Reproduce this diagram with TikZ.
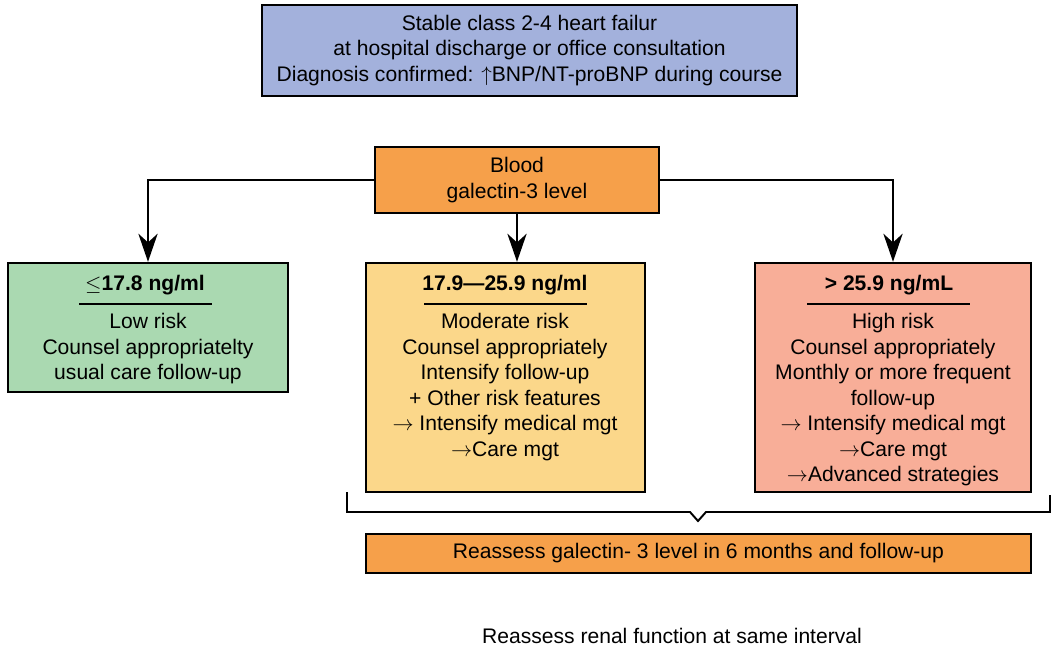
\documentclass[tikz,border=0pt]{standalone}
\usepackage{fontspec}
\setmainfont{Liberation Sans}
\usetikzlibrary{arrows.meta, positioning}

\definecolor{topblue}{HTML}{A3B1DC}
\definecolor{bloodorange}{HTML}{F6A04A}
\definecolor{lowgreen}{HTML}{AAD9B1}
\definecolor{modyellow}{HTML}{FBD78A}
\definecolor{highsalmon}{HTML}{F8AE98}

\begin{document}
\begin{tikzpicture}[
    x=0.02cm,
    y=-0.02cm,
    font=\fontsize{12pt}{14.5pt}\selectfont,
    stagebox/.style={
        draw,
        line width=1.4pt,
        inner sep=0pt,
        align=center,
    },
    riskhead/.style={
        font=\fontsize{12pt}{14.5pt}\selectfont\bfseries,
        inner sep=0pt,
    },
    risktext/.style={
        align=center,
        anchor=north,
        inner sep=0pt,
    },
    headrule/.style={
        line width=1.1pt,
    },
    flow/.style={
        line width=1.1pt,
        -{Stealth[length=16pt, width=11pt, inset=5pt]},
    },
    brace/.style={
        line width=1.1pt,
        line join=miter,
    }
]
    \useasboundingbox (0,0) rectangle (1051,648);

    % Start
    \node[stagebox, fill=topblue, minimum width=10.7cm, minimum height=1.82cm] (stage) at (529.5,50.5)
        {Stable class 2-4 heart failur\\at hospital discharge or office consultation\\Diagnosis confirmed: $\uparrow$BNP/NT-proBNP during course};
    \node[stagebox, fill=bloodorange, minimum width=5.68cm, minimum height=1.32cm] (blood) at (517,180)
        {Blood\\galectin-3 level};

    % Risk boxes
    \node[stagebox, fill=lowgreen, minimum width=5.6cm, minimum height=2.58cm] (lowbox) at (148,327.5) {};
    \node[stagebox, fill=modyellow, minimum width=5.58cm, minimum height=4.58cm] (modbox) at (505.5,377.5) {};
    \node[stagebox, fill=highsalmon, minimum width=5.52cm, minimum height=4.58cm] (highbox) at (893,377.5) {};

    % Risk labels
    \node[riskhead] (lowhead) at (145,285) {$\leq$17.8 ng/ml};
    \node[riskhead] (modhead) at (505,285) {17.9---25.9 ng/ml};
    \node[riskhead] (highhead) at (889,285) {> 25.9 ng/mL};
    \draw[headrule] (79,304) -- (212,304);
    \draw[headrule] (424,304) -- (587,304);
    \draw[headrule] (807,304) -- (970,304);

    \node[risktext] (lowtext) at (148,313)
        {Low risk\\Counsel appropriatelty\\usual care follow-up};
    \node[risktext] (modtext) at (505,313)
        {Moderate risk\\Counsel appropriately\\Intensify follow-up\\+ Other risk features\\$\rightarrow$ Intensify medical mgt\\$\rightarrow$Care mgt};
    \node[risktext] (hightext) at (893,313)
        {High risk\\Counsel appropriately\\Monthly or more frequent\\follow-up\\$\rightarrow$ Intensify medical mgt\\$\rightarrow$Care mgt\\$\rightarrow$Advanced strategies};

    % Arrows
    \draw[flow] (blood.west) -| (lowbox.north);
    \draw[flow] (blood.south) -- (blood.south |- modbox.north);
    \draw[flow] (blood.east) -| (highbox.north);

    % Brace
    \draw[brace] (347,492) -- (347,512) -- (690,512) -- (698,521) -- (706,512) -- (1050,512) -- (1050,495);

    % Follow-up
    \node[stagebox, fill=bloodorange, minimum width=13.3cm, minimum height=0.78cm] (reassess) at (698.5,553.5)
        {Reassess galectin- 3 level in 6 months and follow-up};
    \node[inner sep=0pt] (renal) at (672,636) {Reassess renal function at same interval};
\end{tikzpicture}
\end{document}
